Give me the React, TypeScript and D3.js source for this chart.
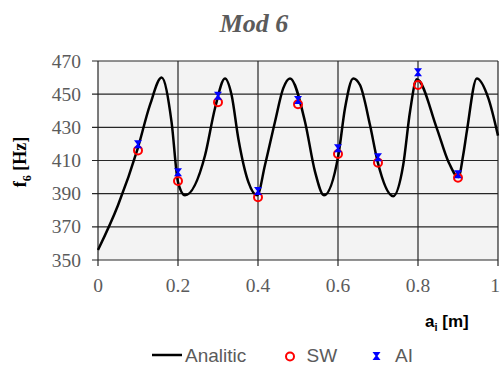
import { useMemo } from 'react';
import * as d3 from 'd3';

const WIDTH = 500;
const HEIGHT = 365;
const MARGIN = { top: 61, right: 2, bottom: 105, left: 98 };

// analytic curve (x in m, f in Hz)
const analyticX = [
  0, 0.05, 0.099, 0.13, 0.159, 0.184, 0.2, 0.2175, 0.2675, 0.2925, 0.3175,
  0.334, 0.351, 0.376, 0.398, 0.4175, 0.4425, 0.463, 0.48, 0.5175, 0.5425, 0.565,
  0.601, 0.6175, 0.638, 0.655, 0.68, 0.699, 0.738, 0.763, 0.78, 0.797, 0.847, 0.876,
  0.901, 0.913, 0.922, 0.947, 0.976, 1.0,
];
const analyticY = [
  356, 383, 417, 443.5, 460, 433, 397, 389, 413, 441.5, 459.5,
  449.5, 423, 397, 389, 407.3, 433.4, 453.5, 459.5, 433.4, 403.3, 389,
  413.3, 441.5, 459.5, 455.5, 431.4, 409.3, 388.5, 407.3, 439.4, 459, 429.4, 409.3,
  400, 413.3, 427.4, 459.5, 447.5, 425,
];

// measured positions
const pointX = [0.1, 0.2, 0.3, 0.4, 0.5, 0.6, 0.7, 0.8, 0.9];
const swValues = [416.1, 397.6, 445.1, 387.8, 443.9, 413.9, 408.7, 455.5, 399.6];
const aiValues = [419.8, 402.9, 449.1, 391.6, 446.5, 417.4, 411.9, 463.2, 401.7];

const xTicks = [0, 0.2, 0.4, 0.6, 0.8, 1];
const yTicks = [350, 370, 390, 410, 430, 450, 470];

const GRAY = '#5b5b5b';
const AI_MARKER = 'M-4,-4L4,-4L1,0L4,4L-4,4L-1,0Z';

export default function App() {
  const boundsWidth = WIDTH - MARGIN.left - MARGIN.right;
  const boundsHeight = HEIGHT - MARGIN.top - MARGIN.bottom;

  const xScale = useMemo(() => d3.scaleLinear().domain([0, 1]).range([0, boundsWidth]), [boundsWidth]);
  const yScale = useMemo(() => d3.scaleLinear().domain([350, 470]).range([boundsHeight, 0]), [boundsHeight]);

  const linePath = d3
    .line<number>()
    .x((d) => xScale(d))
    .y((_, i) => yScale(analyticY[i]))
    .curve(d3.curveMonotoneX)(analyticX);

  return (
    <svg
      width={WIDTH}
      height={HEIGHT}
      style={{ position: 'absolute', left: 0, top: 0, background: '#fff' }}
    >
      <text
        x={254}
        y={32}
        textAnchor="middle"
        fontFamily="'Liberation Serif', serif"
        fontWeight="bold"
        fontStyle="italic"
        fontSize={26}
        fill={GRAY}
      >
        Mod 6
      </text>

      <g transform={`translate(${MARGIN.left},${MARGIN.top})`}>
        <rect width={boundsWidth} height={boundsHeight} fill="#f3f3f3" />

        {/* grid + ticks */}
        {yTicks.map((t) => (
          <g key={'y' + t}>
            <line x1={-6} x2={boundsWidth} y1={yScale(t)} y2={yScale(t)} stroke="#262626" strokeWidth={1.2} />
            <text
              x={-17}
              y={yScale(t) + 6.5}
              textAnchor="end"
              fontFamily="'Liberation Serif', serif"
              fontSize={19.5}
              fill={GRAY}
            >
              {t}
            </text>
          </g>
        ))}
        {xTicks.map((t) => (
          <g key={'x' + t}>
            <line x1={xScale(t)} x2={xScale(t)} y1={0} y2={boundsHeight + 6} stroke="#262626" strokeWidth={1.2} />
            <text
              x={Math.min(xScale(t), boundsWidth - 3)}
              y={boundsHeight + 32}
              textAnchor="middle"
              fontFamily="'Liberation Serif', serif"
              fontSize={19.5}
              fill={GRAY}
            >
              {t}
            </text>
          </g>
        ))}

        <path d={linePath || ''} fill="none" stroke="#000" strokeWidth={2.5} />

        {pointX.map((x, i) => (
          <circle
            key={'sw' + i}
            cx={xScale(x)}
            cy={yScale(swValues[i])}
            r={4}
            fill="none"
            stroke="#ff0000"
            strokeWidth={2}
          />
        ))}
        {pointX.map((x, i) => (
          <path
            key={'ai' + i}
            d={AI_MARKER}
            transform={`translate(${xScale(x)},${yScale(aiValues[i])})`}
            fill="#0000ff"
          />
        ))}
      </g>

      {/* axis titles */}
      <text
        transform="translate(26,162) rotate(-90)"
        textAnchor="middle"
        fontFamily="'Liberation Serif', serif"
        fontWeight="bold"
        fontSize={18}
        fill="#000"
      >
        f<tspan fontSize={12} dy={5}>6</tspan>
        <tspan dy={-5}> [Hz]</tspan>
      </text>
      <text
        x={425}
        y={327}
        fontFamily="'Liberation Sans', sans-serif"
        fontWeight="bold"
        fontSize={17}
        fill="#000"
      >
        a<tspan fontSize={11} dy={4}>i</tspan>
        <tspan dy={-4}> [m]</tspan>
      </text>

      {/* legend */}
      <g fontFamily="'Liberation Sans', sans-serif" fontSize={19} fill={GRAY}>
        <line x1={152} x2={182} y1={355} y2={355} stroke="#000" strokeWidth={2.5} />
        <text x={185} y={361.5}>Analitic</text>
        <circle cx={290} cy={356.5} r={4} fill="none" stroke="#ff0000" strokeWidth={2} />
        <text x={306.5} y={361.5}>SW</text>
        <path d={AI_MARKER} transform="translate(376.5,356)" fill="#0000ff" />
        <text x={395} y={361.5}>AI</text>
      </g>
    </svg>
  );
}
